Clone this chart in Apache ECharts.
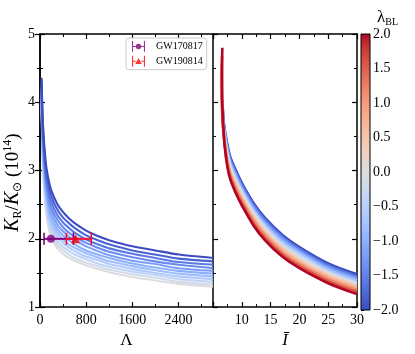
<!DOCTYPE html>
<html>
<head>
<meta charset="utf-8">
<script src="https://cdn.jsdelivr.net/npm/echarts@6/dist/echarts.min.js"></script>
<style>
  html, body { margin: 0; padding: 0; background: #fff; }
  #main { width: 415px; height: 354px; }
</style>
</head>
<body>
<div id="main"></div>
<script>
    // ---- data ----
    // left panel: K_R vs tidal deformability, lambda_BL from 0 (grey) to -2 (blue)
    var lambdaGrid = [28, 50, 100, 150, 200, 300, 400, 500, 600, 800, 1000, 1200, 1600, 2000, 2400, 3000];
    var leftLambdaBL = [0, -0.2, -0.4, -0.6, -0.8, -1.0, -1.2, -1.4, -1.6, -1.8, -2.0];
    var leftCurves = [
        [3.95, 3.05, 2.42, 2.15, 2.01, 1.86, 1.78, 1.72, 1.68, 1.61, 1.56, 1.51, 1.44, 1.39, 1.34, 1.30],
        [3.98, 3.10, 2.48, 2.21, 2.07, 1.91, 1.83, 1.77, 1.72, 1.65, 1.60, 1.55, 1.48, 1.43, 1.37, 1.33],
        [4.02, 3.16, 2.54, 2.27, 2.13, 1.97, 1.88, 1.82, 1.77, 1.70, 1.64, 1.59, 1.52, 1.47, 1.41, 1.37],
        [4.06, 3.22, 2.60, 2.33, 2.19, 2.03, 1.94, 1.87, 1.82, 1.74, 1.69, 1.63, 1.56, 1.50, 1.45, 1.41],
        [4.09, 3.28, 2.67, 2.40, 2.25, 2.09, 1.99, 1.92, 1.87, 1.79, 1.73, 1.67, 1.60, 1.54, 1.49, 1.45],
        [4.13, 3.34, 2.73, 2.46, 2.31, 2.15, 2.05, 1.98, 1.92, 1.83, 1.77, 1.72, 1.64, 1.58, 1.53, 1.49],
        [4.17, 3.40, 2.80, 2.53, 2.38, 2.21, 2.11, 2.03, 1.98, 1.89, 1.82, 1.76, 1.68, 1.63, 1.57, 1.53],
        [4.21, 3.47, 2.87, 2.60, 2.45, 2.28, 2.17, 2.09, 2.03, 1.94, 1.87, 1.81, 1.73, 1.67, 1.62, 1.57],
        [4.26, 3.54, 2.95, 2.68, 2.53, 2.35, 2.24, 2.16, 2.09, 1.99, 1.92, 1.86, 1.78, 1.72, 1.66, 1.62],
        [4.31, 3.62, 3.03, 2.77, 2.61, 2.43, 2.31, 2.23, 2.16, 2.05, 1.98, 1.92, 1.83, 1.77, 1.71, 1.67],
        [4.36, 3.70, 3.12, 2.86, 2.70, 2.51, 2.39, 2.30, 2.23, 2.12, 2.04, 1.98, 1.89, 1.83, 1.77, 1.72]
    ];

    // right panel: K_R vs I-bar, lambda_BL from -2 (blue) to 2 (red)
    var iBarGrid = [7, 7.5, 8, 9, 10, 12, 14, 17, 20, 25, 30];
    var rightLambdaBL = [-2.0, -1.6, -1.2, -0.8, -0.4, 0, 0.4, 0.8, 1.2, 1.6, 2.0];
    // first points of every curve (small I-bar end)
    var rightHeads = [
        [[6.70, 3.92], [6.82, 3.75]],
        [[6.65, 3.97], [6.80, 3.75]],
        [[6.58, 4.03], [6.78, 3.74]],
        [[6.50, 4.10], [6.75, 3.74]],
        [[6.42, 4.18], [6.72, 3.74]],
        [[6.35, 4.27], [6.70, 3.74]],
        [[6.38, 4.36], [6.68, 3.74]],
        [[6.42, 4.46], [6.66, 3.75]],
        [[6.48, 4.57], [6.64, 3.76]],
        [[6.55, 4.68], [6.62, 3.78]],
        [[6.62, 4.80], [6.56, 4.40], [6.60, 4.00], [6.80, 3.65]]
    ];
    var rightCurves = [
        [3.62, 3.38, 3.20, 3.00, 2.82, 2.53, 2.31, 2.06, 1.88, 1.64, 1.48],
        [3.60, 3.35, 3.17, 2.97, 2.79, 2.50, 2.28, 2.03, 1.85, 1.61, 1.45],
        [3.57, 3.31, 3.13, 2.93, 2.75, 2.46, 2.24, 2.00, 1.82, 1.58, 1.42],
        [3.55, 3.28, 3.10, 2.90, 2.72, 2.43, 2.21, 1.96, 1.79, 1.55, 1.39],
        [3.52, 3.25, 3.07, 2.86, 2.69, 2.40, 2.18, 1.93, 1.76, 1.52, 1.36],
        [3.50, 3.22, 3.04, 2.83, 2.66, 2.37, 2.15, 1.90, 1.73, 1.50, 1.34],
        [3.48, 3.18, 3.00, 2.80, 2.62, 2.33, 2.11, 1.87, 1.69, 1.47, 1.31],
        [3.45, 3.15, 2.97, 2.76, 2.59, 2.30, 2.08, 1.84, 1.66, 1.44, 1.28],
        [3.43, 3.12, 2.94, 2.73, 2.56, 2.27, 2.05, 1.80, 1.63, 1.41, 1.25],
        [3.40, 3.08, 2.90, 2.69, 2.52, 2.23, 2.01, 1.77, 1.60, 1.38, 1.22],
        [3.38, 3.05, 2.87, 2.66, 2.49, 2.20, 1.98, 1.74, 1.57, 1.35, 1.19]
    ];

    // events: [Lambda, K_R, lower, upper]
    var gw170817 = [190, 2.0, 70, 580];
    var gw190814 = [616, 2.0, 458, 889];

    var cbarTicks = [-2.0, -1.5, -1.0, -0.5, 0.0, 0.5, 1.0, 1.5, 2.0];

    // ---- styling ----
    var FONT = 'Liberation Serif';
    var coolwarm = [[59,76,192],[68,90,204],[77,104,215],[87,117,225],[98,130,234],[108,142,241],
        [119,154,247],[130,165,251],[141,176,254],[152,185,255],[163,194,255],[174,201,253],
        [184,208,249],[194,213,244],[204,217,238],[213,219,230],[221,221,221],[229,216,209],
        [236,211,197],[241,204,184],[245,196,173],[247,187,160],[247,177,148],[247,166,135],
        [244,154,123],[241,141,111],[236,127,99],[229,112,88],[222,96,77],[213,80,66],
        [203,62,56],[192,40,47],[180,4,38]];

    function cmap(v) {
        var t = (v + 2) / 4;
        var x = t * (coolwarm.length - 1);
        var i = Math.min(Math.floor(x), coolwarm.length - 2);
        var f = x - i;
        var a = coolwarm[i], b = coolwarm[i + 1];
        return 'rgb(' + [0, 1, 2].map(function (k) { return Math.round(a[k] + (b[k] - a[k]) * f); }).join(',') + ')';
    }

    function fmt(v) {
        var s = Math.abs(v).toFixed(1);
        return v < 0 ? '\u2212' + s : s;
    }

    var myChart = echarts.init(document.getElementById('main'));

    var lineStyleAxis = { show: true, lineStyle: { color: '#000', width: 1.5 } };
    var labelStyle = { color: '#000', fontFamily: FONT, fontSize: 14 };

    function valAxis(extra) {
        var base = {
            type: 'value',
            scale: true,
            splitLine: { show: false },
            axisLine: lineStyleAxis,
            axisTick: { show: true, inside: true, length: 5, lineStyle: { color: '#000', width: 1.2 } },
            minorTick: { show: true, splitNumber: 2, length: 3, lineStyle: { color: '#000', width: 1 } },
            minorSplitLine: { show: false },
            axisLabel: { show: false }
        };
        return Object.assign(base, extra);
    }

    var series = [];

    // left curves, grey first so the blue ones sit on top
    leftCurves.forEach(function (row, i) {
        series.push({
            type: 'line',
            xAxisIndex: 0, yAxisIndex: 0,
            data: lambdaGrid.map(function (x, j) { return [x, row[j]]; }),
            showSymbol: false, silent: true,
            smooth: 0.25,
            lineStyle: { color: cmap(leftLambdaBL[i]), width: 2.1 },
            z: 2
        });
    });

    // right curves, blue first, red last
    rightCurves.forEach(function (row, i) {
        var pts = rightHeads[i].concat(iBarGrid.map(function (x, j) { return [x, row[j]]; }));
        series.push({
            type: 'line',
            xAxisIndex: 2, yAxisIndex: 2,
            data: pts,
            showSymbol: false, silent: true,
            smooth: 0.3,
            lineStyle: { color: cmap(rightLambdaBL[i]), width: 2.6 },
            z: 2
        });
    });

    // error bars + markers
    function errBar(ev, color) {
        return {
            name: 'err',
            type: 'line',
            xAxisIndex: 0, yAxisIndex: 0,
            data: [[ev[2], ev[1]], [ev[3], ev[1]]],
            symbol: 'rect', symbolSize: [1.6, 12], showSymbol: true,
            itemStyle: { color: color },
            lineStyle: { color: color, width: 2 },
            silent: true, z: 5
        };
    }
    series.push(errBar(gw170817, 'purple'));
    series.push({
        name: 'GW170817', type: 'scatter', xAxisIndex: 0, yAxisIndex: 0,
        data: [[gw170817[0], gw170817[1]]], symbol: 'circle', symbolSize: 8,
        itemStyle: { color: 'purple' }, z: 5
    });
    series.push(errBar(gw190814, '#f01030'));
    series.push({
        name: 'GW190814', type: 'scatter', xAxisIndex: 0, yAxisIndex: 0,
        data: [[gw190814[0], gw190814[1]]], symbol: 'triangle', symbolSize: 9,
        itemStyle: { color: 'red' }, z: 5
    });

    // colour bar
    series.push({
        type: 'custom',
        xAxisIndex: 4, yAxisIndex: 4,
        data: [[0, cbarTicks[0], 1, cbarTicks[cbarTicks.length - 1]]],
        silent: true,
        renderItem: function (params, api) {
            var p0 = api.coord([api.value(0), api.value(1)]);
            var p1 = api.coord([api.value(2), api.value(3)]);
            var stops = coolwarm.map(function (c, k) {
                return { offset: k / (coolwarm.length - 1), color: 'rgb(' + c.join(',') + ')' };
            });
            return {
                type: 'rect',
                shape: { x: p0[0], y: p1[1], width: p1[0] - p0[0], height: p0[1] - p1[1] },
                style: { fill: new echarts.graphic.LinearGradient(0, 1, 0, 0, stops), stroke: '#000', lineWidth: 1 }
            };
        }
    });

    var iconCircle = 'path://M0 0L2 0L2 20L0 20Z M22 0L24 0L24 20L22 20Z M2 9L7 9L7 11L2 11Z M17 9L22 9L22 11L17 11Z M7 10A5 5 0 1 0 17 10A5 5 0 1 0 7 10Z';
    var iconTri = 'path://M0 0L2 0L2 20L0 20Z M22 0L24 0L24 20L22 20Z M2 9L7 9L7 11L2 11Z M17 9L22 9L22 11L17 11Z M6 15L12 4L18 15Z';

    var option = {
        animation: false,
        backgroundColor: '#fff',
        title: {
            text: '{l|\u03bb}{s|BL}',
            left: 372, top: 4,
            textStyle: {
                rich: {
                    l: { fontFamily: FONT, fontSize: 17, fontWeight: 'normal', color: '#000', lineHeight: 18 },
                    s: { fontFamily: FONT, fontSize: 10, fontWeight: 'normal', color: '#000', lineHeight: 10, verticalAlign: 'bottom' }
                }
            }
        },
        legend: {
            data: [{ name: 'GW170817', icon: iconCircle }, { name: 'GW190814', icon: iconTri }],
            orient: 'vertical',
            left: 126, top: 38,
            itemWidth: 13, itemHeight: 11, itemGap: 4,
            padding: [3, 4, 3, 6],
            borderColor: '#ccc', borderWidth: 1, borderRadius: 3,
            backgroundColor: 'rgba(255,255,255,0.8)',
            textStyle: { fontFamily: FONT, fontSize: 10, color: '#000', padding: [0, 0, 0, 6] },
            selectedMode: false
        },
        grid: [
            { left: 40, top: 34, width: 173, height: 276 },
            { left: 213, top: 34, width: 144, height: 276 },
            { left: 361, top: 34, width: 9, height: 276 }
        ],
        xAxis: [
            valAxis({
                gridIndex: 0, position: 'bottom', min: 0, max: 3000, interval: 800,
                axisLabel: Object.assign({ show: true, margin: 6, showMaxLabel: false, formatter: function (v) { return String(v); } }, labelStyle),
                name: '\u039b', nameLocation: 'middle', nameGap: 23,
                nameTextStyle: { fontFamily: FONT, fontSize: 17, color: '#000' }
            }),
            valAxis({ gridIndex: 0, position: 'top', min: 0, max: 3000, interval: 800 }),
            valAxis({
                gridIndex: 1, position: 'bottom', min: 5, max: 30, interval: 5,
                axisLabel: Object.assign({ show: true, margin: 6, showMinLabel: false }, labelStyle),
                name: '\u012a', nameLocation: 'middle', nameGap: 23,
                nameTextStyle: { fontFamily: FONT, fontSize: 17, fontStyle: 'italic', color: '#000' }
            }),
            valAxis({ gridIndex: 1, position: 'top', min: 5, max: 30, interval: 5 }),
            { type: 'value', gridIndex: 2, min: 0, max: 1, show: false }
        ],
        yAxis: [
            valAxis({
                gridIndex: 0, position: 'left', min: 1, max: 5, interval: 1,
                axisLabel: Object.assign({ show: true, margin: 5 }, labelStyle),
                name: '{i|K}{s|R}{n|/}{i|K}{s|\u2299}{n| (10}{p|14}{n|)}',
                nameLocation: 'middle', nameGap: 16,
                nameTextStyle: {
                    padding: [0, 24, 0, 0],
                    rich: {
                        i: { fontFamily: FONT, fontSize: 20, fontStyle: 'italic', color: '#000', lineHeight: 22 },
                        n: { fontFamily: FONT, fontSize: 19, color: '#000', lineHeight: 22 },
                        s: { fontFamily: FONT, fontSize: 12, color: '#000', lineHeight: 11, verticalAlign: 'bottom' },
                        p: { fontFamily: FONT, fontSize: 12, color: '#000', lineHeight: 11, verticalAlign: 'top' }
                    }
                }
            }),
            valAxis({ gridIndex: 0, position: 'right', min: 1, max: 5, interval: 1 }),
            valAxis({ gridIndex: 1, position: 'left', min: 1, max: 5, interval: 1 }),
            valAxis({ gridIndex: 1, position: 'right', min: 1, max: 5, interval: 1 }),
            {
                type: 'value', gridIndex: 2, position: 'right',
                min: cbarTicks[0], max: cbarTicks[cbarTicks.length - 1], interval: 0.5,
                splitLine: { show: false },
                axisLine: { show: false },
                axisTick: { show: true, inside: false, length: 3, lineStyle: { color: '#000', width: 1 } },
                axisLabel: Object.assign({ show: true, margin: 3, formatter: fmt }, labelStyle)
            }
        ],
        series: series
    };

    myChart.setOption(option);
</script>
</body>
</html>
